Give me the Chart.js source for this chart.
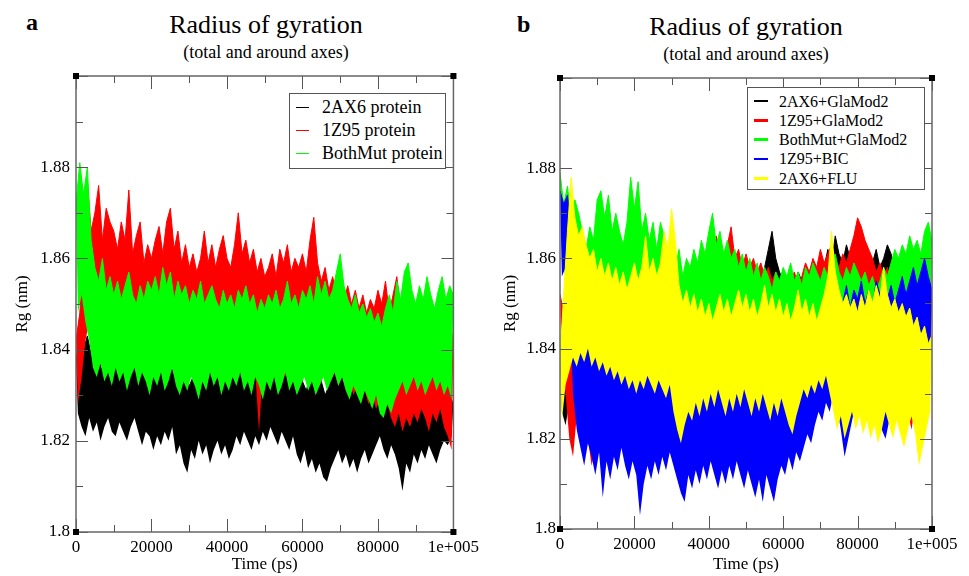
<!DOCTYPE html>
<html>
<head>
<meta charset="utf-8">
<title>Radius of gyration</title>
<script src="https://cdn.jsdelivr.net/npm/chart.js@4.4.1/dist/chart.umd.min.js"></script>
<style>
  html, body { margin: 0; padding: 0; background: #fff; }
  body { width: 969px; height: 576px; position: relative; overflow: hidden;
         font-family: 'Liberation Serif', 'Times New Roman', serif; color: #000; }
  .abs { position: absolute; white-space: nowrap; }
  .lbl { font-weight: bold; font-size: 24px; line-height: 24px; }
  .ttl { font-size: 26px; line-height: 26px; text-align: center; width: 300px; }
  .sub { font-size: 18px; line-height: 18px; text-align: center; width: 300px; }
  .legend { position: absolute; border: 1px solid #555; background: #fff; box-sizing: border-box; }
  .legend .row { position: absolute; left: 0; right: 0; }
  .legend .swatch { position: absolute; }
  .legend .txt { position: absolute; white-space: nowrap; }
  canvas { position: absolute; top: 0; }
</style>
</head>
<body>

<div class="abs lbl" style="left:26px; top:10px;">a</div>
<div class="abs ttl" style="left:116px; top:12px;">Radius of gyration</div>
<div class="abs sub" style="left:116px; top:43px;">(total and around axes)</div>

<div class="abs lbl" style="left:517px; top:12px;">b</div>
<div class="abs ttl" style="left:596px; top:14px;">Radius of gyration</div>
<div class="abs sub" style="left:596px; top:45px;">(total and around axes)</div>

<canvas id="chartA" width="484" height="576" style="left:0px"></canvas>
<canvas id="chartB" width="485" height="576" style="left:484px"></canvas>

<div id="legendA" class="legend" style="left:289px; top:93px; width:157px; height:76px;"></div>
<div id="legendB" class="legend" style="left:747px; top:87px; width:178px; height:103px;"></div>

<script>
// ---- axes (shared by both panels) ----
const xMajor = [0, 20000, 40000, 60000, 80000, 100000];
const xTickLabels = ['0', '20000', '40000', '60000', '80000', '1e+005'];
const xMinor = [10000, 30000, 50000, 70000, 90000];
const yMajor = [1.80, 1.82, 1.84, 1.86, 1.88, 1.90];
const yTickLabels = ['1.8', '1.82', '1.84', '1.86', '1.88', ''];
const yMinor = [1.81, 1.83, 1.85, 1.87, 1.89];

// upper values at t = 0, 1000, ... 100000 ps; lower values at t = 500, 1500, ... 99500 ps
// ---- panel a ----
const namesA = ['2AX6 protein', '1Z95 protein', 'BothMut protein'];
const colorsA = ['#000000', '#ff0000', '#00ff00'];

const hi2AX6 = [1.838,1.842,1.840,1.843,1.839,1.836,1.838,1.835,1.839,1.837,1.836,
  1.838,1.834,1.837,1.835,1.838,1.836,1.834,1.837,1.833,1.836,
  1.835,1.838,1.836,1.840,1.837,1.834,1.836,1.833,1.835,1.832,
  1.834,1.836,1.833,1.835,1.838,1.840,1.836,1.834,1.835,1.833,
  1.836,1.834,1.837,1.835,1.833,1.836,1.834,1.838,1.836,1.835,
  1.837,1.834,1.836,1.833,1.835,1.837,1.834,1.832,1.835,1.833,
  1.831,1.834,1.832,1.835,1.833,1.830,1.832,1.836,1.838,1.835,
  1.833,1.836,1.834,1.832,1.830,1.833,1.835,1.832,1.834,1.831,
  1.829,1.832,1.830,1.834,1.832,1.833,1.830,1.832,1.835,1.833,
  1.831,1.834,1.832,1.830,1.833,1.831,1.829,1.832,1.830,1.828];
const lo2AX6 = [1.826,1.823,1.821,1.825,1.822,1.824,1.820,1.823,1.825,1.822,
  1.821,1.824,1.822,1.820,1.823,1.825,1.822,1.819,1.822,1.821,
  1.818,1.821,1.819,1.822,1.820,1.823,1.817,1.819,1.815,1.813,
  1.818,1.816,1.820,1.817,1.819,1.815,1.818,1.820,1.817,1.819,
  1.816,1.818,1.821,1.819,1.822,1.820,1.818,1.821,1.819,1.822,
  1.820,1.823,1.821,1.819,1.822,1.820,1.818,1.821,1.817,1.815,
  1.818,1.814,1.816,1.813,1.815,1.812,1.811,1.814,1.816,1.818,
  1.815,1.817,1.814,1.816,1.813,1.816,1.818,1.815,1.817,1.819,
  1.821,1.818,1.816,1.819,1.817,1.814,1.809,1.815,1.813,1.817,
  1.815,1.818,1.816,1.819,1.817,1.815,1.818,1.820,1.819,1.821];

const hi1Z95 = [1.842,1.848,1.860,1.877,1.866,1.870,1.876,1.864,1.871,1.868,1.866,
  1.862,1.868,1.864,1.875,1.861,1.865,1.868,1.859,1.863,1.860,
  1.864,1.867,1.861,1.868,1.871,1.862,1.866,1.859,1.863,1.858,
  1.861,1.857,1.860,1.866,1.859,1.863,1.858,1.862,1.865,1.860,
  1.858,1.863,1.870,1.861,1.864,1.859,1.862,1.857,1.860,1.856,
  1.858,1.861,1.856,1.862,1.859,1.863,1.857,1.860,1.858,1.861,
  1.857,1.864,1.869,1.859,1.855,1.858,1.853,1.856,1.852,1.855,
  1.851,1.854,1.850,1.853,1.849,1.852,1.848,1.851,1.849,1.853,
  1.850,1.855,1.848,1.852,1.856,1.849,1.853,1.847,1.851,1.848,
  1.852,1.849,1.846,1.850,1.847,1.845,1.848,1.844,1.846,1.842];
const lo1Z95 = [1.828,1.834,1.842,1.846,1.848,1.845,1.849,1.847,1.844,1.846,
  1.843,1.845,1.842,1.846,1.844,1.841,1.845,1.843,1.840,1.844,
  1.842,1.839,1.843,1.841,1.844,1.840,1.842,1.838,1.841,1.839,
  1.842,1.840,1.837,1.841,1.839,1.842,1.838,1.840,1.837,1.840,
  1.838,1.841,1.837,1.839,1.836,1.840,1.838,1.835,1.822,1.836,
  1.839,1.836,1.838,1.835,1.837,1.834,1.836,1.838,1.835,1.837,
  1.834,1.836,1.833,1.835,1.832,1.834,1.836,1.833,1.835,1.832,
  1.834,1.831,1.833,1.830,1.832,1.829,1.831,1.828,1.830,1.827,
  1.829,1.826,1.828,1.825,1.823,1.826,1.822,1.825,1.823,1.826,
  1.824,1.827,1.825,1.822,1.826,1.824,1.827,1.823,1.821,1.818];

const hiBoth = [1.872,1.881,1.874,1.880,1.864,1.858,1.855,1.860,1.853,1.856,1.852,
  1.855,1.851,1.854,1.857,1.852,1.850,1.854,1.851,1.855,1.853,
  1.856,1.852,1.858,1.854,1.857,1.851,1.855,1.852,1.854,1.850,
  1.853,1.851,1.855,1.850,1.852,1.854,1.851,1.849,1.853,1.850,
  1.852,1.849,1.853,1.851,1.854,1.850,1.852,1.848,1.851,1.849,
  1.852,1.850,1.853,1.849,1.851,1.855,1.850,1.852,1.849,1.853,
  1.851,1.854,1.850,1.856,1.852,1.855,1.851,1.853,1.857,1.861,
  1.854,1.851,1.849,1.852,1.848,1.850,1.847,1.849,1.846,1.848,
  1.845,1.849,1.852,1.848,1.855,1.851,1.857,1.859,1.853,1.850,
  1.854,1.851,1.856,1.852,1.849,1.853,1.856,1.851,1.854,1.852];
const loBoth = [1.848,1.852,1.846,1.842,1.836,1.834,1.837,1.833,1.835,1.832,
  1.836,1.833,1.835,1.831,1.834,1.836,1.832,1.835,1.833,1.830,
  1.834,1.832,1.835,1.831,1.833,1.836,1.832,1.830,1.833,1.831,
  1.834,1.832,1.829,1.833,1.831,1.835,1.832,1.834,1.830,1.833,
  1.831,1.834,1.832,1.835,1.831,1.833,1.830,1.834,1.832,1.829,
  1.833,1.831,1.834,1.830,1.832,1.835,1.831,1.833,1.830,1.832,
  1.834,1.831,1.833,1.830,1.832,1.834,1.831,1.833,1.835,1.832,
  1.834,1.831,1.829,1.832,1.830,1.828,1.831,1.829,1.827,1.830,
  1.826,1.825,1.828,1.826,1.829,1.831,1.833,1.830,1.832,1.834,
  1.831,1.833,1.830,1.832,1.834,1.831,1.833,1.830,1.832,1.829];

// ---- panel b ----
const namesB = ['2AX6+GlaMod2', '1Z95+GlaMod2', 'BothMut+GlaMod2', '1Z95+BIC', '2AX6+FLU'];
const colorsB = ['#000000', '#ff0000', '#00ff00', '#0000ff', '#ffff00'];

const hi2AX6Gla = [1.840,1.838,1.842,1.836,1.841,1.843,1.840,1.844,1.841,1.845,1.842,
  1.844,1.841,1.846,1.843,1.840,1.845,1.842,1.844,1.841,1.843,
  1.846,1.842,1.845,1.843,1.847,1.844,1.841,1.846,1.838,1.848,
  1.850,1.852,1.849,1.853,1.851,1.855,1.852,1.854,1.851,1.856,
  1.853,1.855,1.852,1.856,1.854,1.857,1.853,1.855,1.858,1.854,
  1.856,1.853,1.857,1.855,1.858,1.862,1.866,1.860,1.857,1.855,
  1.852,1.855,1.853,1.857,1.855,1.858,1.856,1.859,1.857,1.860,
  1.858,1.862,1.859,1.865,1.861,1.859,1.863,1.860,1.858,1.861,
  1.857,1.860,1.856,1.859,1.862,1.858,1.860,1.863,1.861,1.857,
  1.855,1.857,1.854,1.856,1.853,1.855,1.852,1.854,1.851,1.853];
const lo2AX6Gla = [1.826,1.823,1.828,1.825,1.830,1.827,1.824,1.829,1.826,1.828,
  1.825,1.827,1.823,1.826,1.828,1.824,1.827,1.825,1.820,1.826,
  1.823,1.826,1.824,1.827,1.825,1.828,1.831,1.833,1.836,1.834,
  1.838,1.836,1.839,1.837,1.840,1.838,1.841,1.839,1.842,1.840,
  1.843,1.841,1.844,1.842,1.845,1.843,1.846,1.844,1.842,1.845,
  1.843,1.846,1.844,1.847,1.845,1.848,1.846,1.844,1.847,1.845,
  1.843,1.846,1.844,1.842,1.845,1.843,1.846,1.844,1.847,1.845,
  1.848,1.846,1.849,1.847,1.845,1.848,1.846,1.849,1.847,1.845,
  1.848,1.846,1.844,1.847,1.845,1.843,1.846,1.844,1.842,1.845,
  1.843,1.841,1.844,1.842,1.840,1.843,1.841,1.839,1.842,1.840];

const hi1Z95Gla = [1.852,1.848,1.844,1.838,1.836,1.839,1.835,1.838,1.836,1.840,1.837,
  1.841,1.838,1.842,1.839,1.843,1.840,1.842,1.839,1.844,1.841,
  1.843,1.845,1.842,1.844,1.841,1.843,1.846,1.844,1.847,1.845,
  1.848,1.850,1.853,1.851,1.855,1.853,1.857,1.855,1.858,1.860,
  1.858,1.865,1.861,1.859,1.863,1.867,1.860,1.862,1.858,1.861,
  1.858,1.860,1.857,1.859,1.856,1.858,1.855,1.857,1.854,1.856,
  1.853,1.855,1.857,1.854,1.856,1.859,1.857,1.860,1.858,1.862,
  1.859,1.861,1.863,1.860,1.858,1.861,1.859,1.862,1.865,1.869,
  1.867,1.864,1.862,1.860,1.857,1.859,1.856,1.858,1.855,1.857,
  1.853,1.856,1.852,1.855,1.851,1.854,1.850,1.853,1.849,1.852];
const lo1Z95Gla = [1.838,1.830,1.820,1.816,1.825,1.822,1.828,1.820,1.814,1.818,
  1.824,1.827,1.823,1.826,1.822,1.825,1.823,1.827,1.824,1.826,
  1.823,1.826,1.828,1.825,1.827,1.830,1.828,1.831,1.833,1.836,
  1.838,1.840,1.842,1.840,1.843,1.841,1.844,1.842,1.845,1.843,
  1.846,1.844,1.847,1.845,1.843,1.846,1.844,1.847,1.845,1.843,
  1.846,1.844,1.842,1.845,1.843,1.846,1.844,1.842,1.845,1.843,
  1.841,1.844,1.842,1.845,1.843,1.846,1.844,1.847,1.845,1.848,
  1.846,1.849,1.847,1.850,1.848,1.846,1.849,1.851,1.849,1.852,
  1.850,1.848,1.846,1.849,1.844,1.847,1.843,1.840,1.838,1.835,
  1.832,1.829,1.831,1.826,1.822,1.828,1.825,1.830,1.827,1.833];

const hiBothGla = [1.879,1.872,1.876,1.869,1.873,1.870,1.866,1.862,1.867,1.864,1.873,
  1.875,1.869,1.874,1.866,1.870,1.866,1.863,1.868,1.878,1.871,
  1.877,1.866,1.870,1.864,1.868,1.862,1.868,1.865,1.862,1.864,
  1.858,1.862,1.856,1.860,1.858,1.862,1.859,1.864,1.861,1.866,
  1.870,1.863,1.866,1.861,1.864,1.860,1.862,1.858,1.861,1.857,
  1.860,1.856,1.859,1.855,1.858,1.856,1.853,1.857,1.855,1.858,
  1.856,1.859,1.855,1.857,1.854,1.858,1.856,1.859,1.857,1.855,
  1.858,1.856,1.859,1.861,1.857,1.855,1.858,1.856,1.859,1.857,
  1.855,1.857,1.854,1.856,1.853,1.855,1.858,1.856,1.859,1.862,
  1.860,1.863,1.861,1.865,1.862,1.864,1.861,1.866,1.868,1.864];
const loBothGla = [1.862,1.855,1.852,1.850,1.853,1.851,1.849,1.852,1.850,1.853,
  1.851,1.854,1.852,1.850,1.853,1.851,1.854,1.852,1.850,1.853,
  1.851,1.849,1.852,1.850,1.853,1.851,1.848,1.850,1.847,1.845,
  1.843,1.840,1.838,1.841,1.836,1.839,1.842,1.838,1.840,1.843,
  1.845,1.842,1.846,1.843,1.847,1.844,1.846,1.843,1.845,1.847,
  1.844,1.846,1.843,1.845,1.842,1.844,1.846,1.843,1.841,1.839,
  1.842,1.844,1.841,1.843,1.845,1.842,1.844,1.846,1.843,1.845,
  1.847,1.844,1.846,1.843,1.845,1.847,1.844,1.846,1.843,1.845,
  1.842,1.844,1.846,1.843,1.845,1.842,1.840,1.843,1.838,1.841,
  1.839,1.836,1.840,1.837,1.834,1.838,1.832,1.836,1.840,1.842];

const hiBIC = [1.875,1.872,1.874,1.866,1.846,1.840,1.838,1.842,1.837,1.840,1.836,
  1.839,1.835,1.838,1.841,1.836,1.839,1.834,1.838,1.836,1.840,
  1.837,1.835,1.839,1.836,1.838,1.841,1.837,1.840,1.843,1.839,
  1.835,1.832,1.836,1.834,1.831,1.835,1.833,1.836,1.832,1.838,
  1.834,1.837,1.833,1.836,1.832,1.835,1.838,1.834,1.837,1.833,
  1.836,1.832,1.835,1.831,1.834,1.837,1.833,1.836,1.832,1.835,
  1.838,1.834,1.837,1.835,1.839,1.836,1.838,1.841,1.837,1.840,
  1.843,1.846,1.844,1.848,1.852,1.850,1.854,1.849,1.853,1.851,
  1.855,1.850,1.853,1.849,1.855,1.852,1.848,1.851,1.854,1.850,
  1.853,1.856,1.852,1.855,1.858,1.854,1.857,1.860,1.856,1.853];
const loBIC = [1.856,1.858,1.852,1.830,1.822,1.818,1.814,1.819,1.816,1.812,
  1.817,1.807,1.815,1.811,1.816,1.813,1.818,1.814,1.811,1.815,
  1.812,1.803,1.810,1.814,1.811,1.815,1.812,1.816,1.813,1.817,
  1.814,1.811,1.808,1.806,1.812,1.809,1.813,1.810,1.814,1.811,
  1.815,1.812,1.809,1.813,1.810,1.814,1.811,1.815,1.812,1.809,
  1.813,1.810,1.807,1.811,1.806,1.812,1.809,1.806,1.811,1.814,
  1.812,1.816,1.813,1.817,1.815,1.818,1.821,1.819,1.823,1.826,
  1.824,1.828,1.826,1.830,1.827,1.822,1.816,1.820,1.824,1.828,
  1.826,1.830,1.827,1.825,1.829,1.826,1.822,1.820,1.824,1.828,
  1.832,1.836,1.839,1.837,1.840,1.838,1.841,1.839,1.842,1.838];

const hiFLU = [1.838,1.852,1.866,1.878,1.869,1.865,1.867,1.863,1.860,1.862,1.857,
  1.860,1.856,1.859,1.855,1.858,1.854,1.857,1.853,1.856,1.859,
  1.855,1.858,1.865,1.857,1.860,1.856,1.859,1.866,1.862,1.871,
  1.864,1.854,1.850,1.853,1.849,1.852,1.848,1.851,1.847,1.850,
  1.846,1.849,1.852,1.848,1.851,1.847,1.850,1.853,1.849,1.852,
  1.848,1.851,1.847,1.850,1.854,1.849,1.852,1.848,1.851,1.847,
  1.850,1.846,1.849,1.853,1.848,1.851,1.847,1.850,1.846,1.849,
  1.852,1.856,1.866,1.857,1.853,1.850,1.852,1.849,1.851,1.848,
  1.852,1.849,1.853,1.850,1.854,1.851,1.858,1.852,1.849,1.851,
  1.848,1.850,1.847,1.849,1.845,1.847,1.843,1.845,1.841,1.843];
const loFLU = [1.824,1.832,1.835,1.838,1.836,1.839,1.837,1.840,1.836,1.838,
  1.835,1.837,1.834,1.836,1.833,1.835,1.832,1.834,1.831,1.833,
  1.830,1.833,1.831,1.834,1.832,1.830,1.833,1.831,1.829,1.832,
  1.826,1.822,1.819,1.823,1.826,1.824,1.828,1.825,1.829,1.826,
  1.830,1.827,1.831,1.828,1.825,1.829,1.826,1.830,1.827,1.831,
  1.828,1.825,1.829,1.826,1.830,1.827,1.824,1.828,1.825,1.829,
  1.826,1.823,1.821,1.825,1.828,1.831,1.829,1.832,1.830,1.833,
  1.831,1.834,1.830,1.826,1.822,1.825,1.820,1.823,1.826,1.822,
  1.825,1.821,1.824,1.820,1.823,1.819,1.822,1.826,1.823,1.820,
  1.824,1.821,1.818,1.822,1.825,1.821,1.814,1.818,1.822,1.826];

(function () {
  const FONT = "'Liberation Serif', 'Times New Roman', serif";
  const STEP = 1000;

  // closed outline: upper values forward in time, lower values back
  function outline(hi, lo) {
    const top = hi.map((v, i) => ({ x: i * STEP, y: v }));
    const bottom = lo.map((v, i) => ({ x: i * STEP + STEP / 2, y: v })).reverse();
    return top.concat(bottom);
  }

  // xmgrace style frame: inward ticks on four sides, corner markers
  const framePlugin = {
    id: 'frame',
    afterDraw(chart) {
      const { ctx, chartArea: a, scales } = chart;
      const sx = scales.x, sy = scales.y;
      ctx.save();
      ctx.strokeStyle = '#555';
      ctx.lineWidth = 1;
      ctx.beginPath();
      const tx = (v, len) => {
        const p = Math.round(sx.getPixelForValue(v)) + 0.5;
        ctx.moveTo(p, a.bottom); ctx.lineTo(p, a.bottom - len);
        ctx.moveTo(p, a.top); ctx.lineTo(p, a.top + len);
      };
      const ty = (v, len) => {
        const p = Math.round(sy.getPixelForValue(v)) + 0.5;
        ctx.moveTo(a.left, p); ctx.lineTo(a.left + len, p);
        ctx.moveTo(a.right, p); ctx.lineTo(a.right - len, p);
      };
      xMajor.forEach(v => tx(v, 13));
      xMinor.forEach(v => tx(v, 7));
      yMajor.forEach(v => ty(v, 12));
      yMinor.forEach(v => ty(v, 7));
      ctx.stroke();
      ctx.lineWidth = 1.5;
      ctx.strokeStyle = '#666';
      ctx.strokeRect(a.left, a.top, a.right - a.left, a.bottom - a.top);
      ctx.fillStyle = '#000';
      [[a.left, a.top], [a.right, a.top], [a.left, a.bottom], [a.right, a.bottom]].forEach(([cx, cy]) => {
        ctx.fillRect(cx - 3, cy - 3, 6, 6);
      });
      ctx.restore();
    }
  };

  function makeChart(id, series, opts) {
    const datasets = series.map((s, i) => ({
      label: s.name,
      data: outline(s.hi, s.lo),
      borderColor: s.color,
      backgroundColor: s.color,
      borderWidth: 1,
      pointRadius: 0,
      tension: 0,
      fill: 'shape',
      order: series.length - i // later series drawn on top
    }));
    return new Chart(document.getElementById(id), {
      type: 'line',
      data: { datasets },
      plugins: [framePlugin],
      options: {
        responsive: false,
        animation: false,
        parsing: false,
        events: [],
        layout: { padding: { left: opts.padLeft, right: opts.padRight, top: opts.padTop, bottom: 0 } },
        plugins: { legend: { display: false }, tooltip: { enabled: false } },
        scales: {
          x: {
            type: 'linear', min: 0, max: 100000,
            afterBuildTicks: (s) => { s.ticks = xMajor.map(v => ({ value: v })); },
            afterFit: (s) => { s.height = opts.xHeight; },
            grid: { display: false, drawTicks: false },
            border: { display: false },
            ticks: {
              color: '#000', padding: 5, maxRotation: 0, autoSkip: false,
              font: { family: FONT, size: 17 },
              callback: (v, i) => xTickLabels[i]
            },
            title: { display: true, text: 'Time (ps)', color: '#000', padding: { top: 0, bottom: 1 },
                     font: { family: FONT, size: 17 } }
          },
          y: {
            type: 'linear', min: 1.8, max: 1.9,
            afterBuildTicks: (s) => { s.ticks = yMajor.map(v => ({ value: v })); },
            afterFit: (s) => { s.width = opts.yWidth; },
            grid: { display: false, drawTicks: false },
            border: { display: false },
            ticks: {
              color: '#000', padding: opts.yTickPad, autoSkip: false,
              font: { family: FONT, size: 17 },
              callback: (v, i) => yTickLabels[i]
            },
            title: { display: true, text: 'Rg (nm)', color: '#000', padding: 0,
                     font: { family: FONT, size: 17 } }
          }
        }
      }
    });
  }

  makeChart('chartA', [
    { name: namesA[0], color: colorsA[0], hi: hi2AX6, lo: lo2AX6 },
    { name: namesA[1], color: colorsA[1], hi: hi1Z95, lo: lo1Z95 },
    { name: namesA[2], color: colorsA[2], hi: hiBoth, lo: loBoth }
  ], { padLeft: 12, padRight: 27, padTop: 76, xHeight: 44, yWidth: 64, yTickPad: 6 });

  makeChart('chartB', [
    { name: namesB[0], color: colorsB[0], hi: hi2AX6Gla, lo: lo2AX6Gla },
    { name: namesB[1], color: colorsB[1], hi: hi1Z95Gla, lo: lo1Z95Gla },
    { name: namesB[2], color: colorsB[2], hi: hiBothGla, lo: loBothGla },
    { name: namesB[3], color: colorsB[3], hi: hiBIC, lo: loBIC },
    { name: namesB[4], color: colorsB[4], hi: hiFLU, lo: loFLU }
  ], { padLeft: 16, padRight: 37, padTop: 78, xHeight: 47, yWidth: 60, yTickPad: 4 });

  // legends inside the plot boxes
  function legend(id, names, colors, o) {
    const box = document.getElementById(id);
    names.forEach((n, i) => {
      const row = document.createElement('div');
      row.className = 'row';
      row.style.top = (o.top + i * o.step) + 'px';
      row.style.height = o.step + 'px';
      const sw = document.createElement('div');
      sw.className = 'swatch';
      sw.style.left = o.swLeft + 'px';
      sw.style.width = o.swWidth + 'px';
      sw.style.height = o.swThick + 'px';
      sw.style.top = (o.step / 2 - o.swThick / 2) + 'px';
      sw.style.background = colors[i];
      const tx = document.createElement('div');
      tx.className = 'txt';
      tx.textContent = n;
      tx.style.left = o.txLeft + 'px';
      tx.style.fontSize = o.size + 'px';
      tx.style.lineHeight = o.step + 'px';
      tx.style.top = '0px';
      row.appendChild(sw);
      row.appendChild(tx);
      box.appendChild(row);
    });
  }

  legend('legendA', namesA, colorsA, { top: 2, step: 23, swLeft: 6, swWidth: 13, swThick: 1, txLeft: 32, size: 18 });
  legend('legendB', namesB, colorsB, { top: 3.5, step: 19.3, swLeft: 6, swWidth: 14, swThick: 2.5, txLeft: 31, size: 16 });
})();
</script>
</body>
</html>
